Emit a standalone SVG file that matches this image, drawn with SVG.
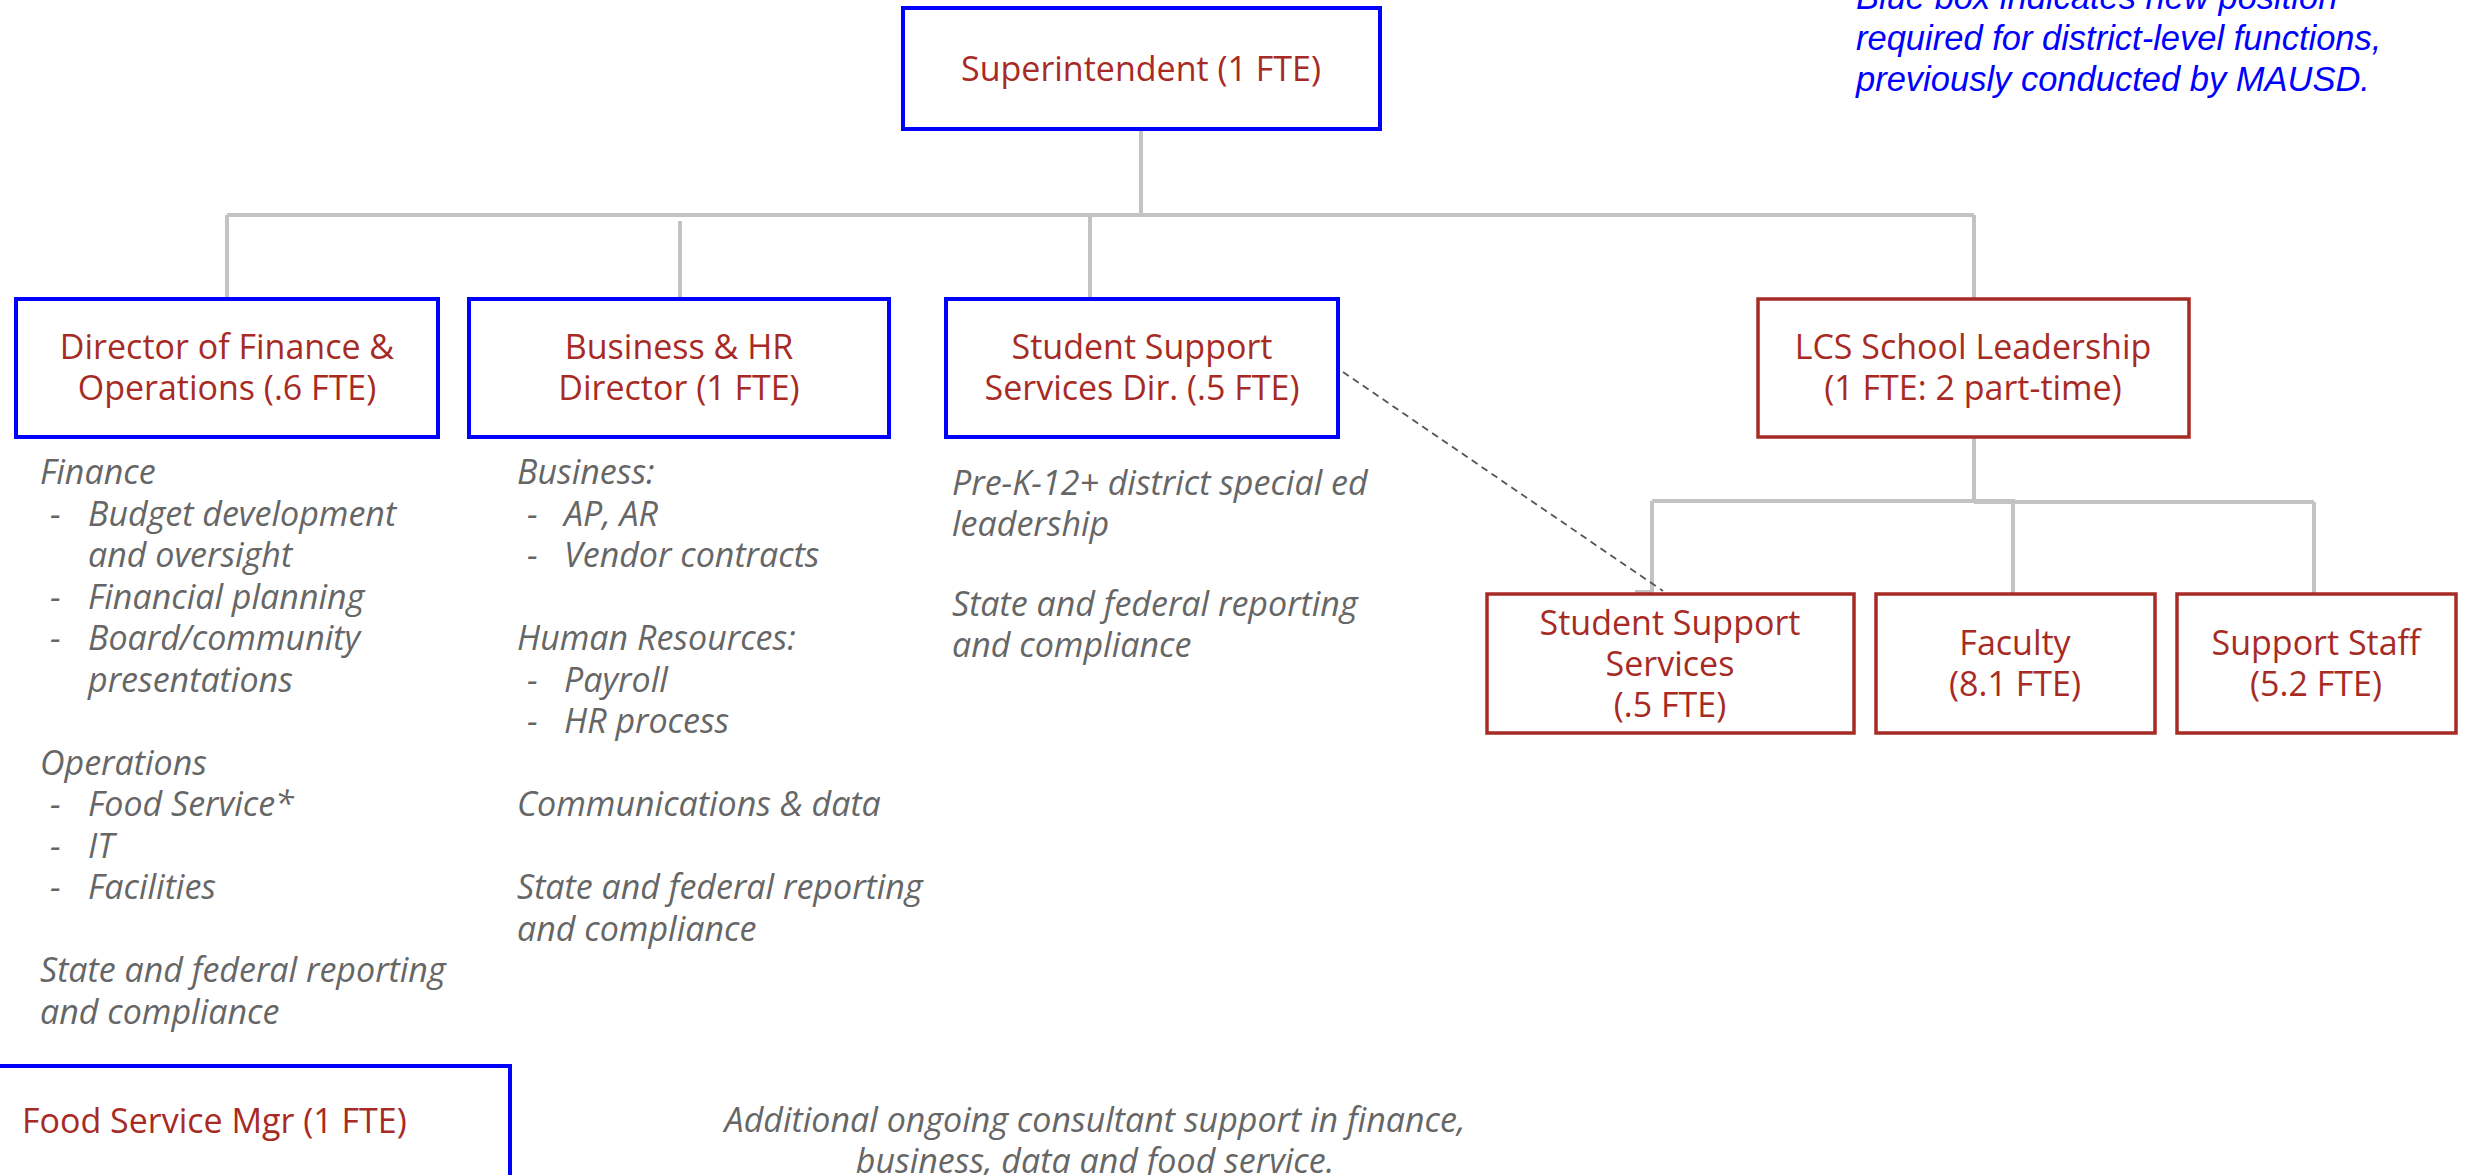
<svg xmlns="http://www.w3.org/2000/svg" width="2465" height="1175" viewBox="0 0 2465 1175">
<style>
.bbox{fill:#ffffff;stroke:#0000ff;stroke-width:4}
.rbox{fill:#ffffff;stroke:#a72b24;stroke-width:3.5}
.t{font-family:"Open Sans","Noto Sans",sans-serif;font-size:34px;fill:#a72b24;text-anchor:middle}
.n{font-family:"Open Sans","Noto Sans",sans-serif;font-size:34px;font-style:italic;fill:#666666}
.lg{font-family:"Liberation Sans",Arial,sans-serif;font-size:34.5px;font-style:italic;fill:#0000ff}
.c{fill:none;stroke:#c3c3c3;stroke-width:4}
.d{fill:none;stroke:#555555;stroke-width:1.8;stroke-dasharray:7 5}
</style>
<rect width="2465" height="1175" fill="#ffffff"/>
<g id="connectors">
<path class="c" d="M1141 129V215M227 215H1974M227 215V299M680 221V299M1090 215V299M1974 215V299"/>
<path class="c" d="M1974 437V501M1652 501H2015M1974 502H2314M1652 501V592H1635M2013 501V594M2314 502V594"/>
<path class="d" d="M1343 372L1663 591"/>
</g>
<g id="legend">
<text class="lg" x="1856" y="9">Blue box indicates new position</text>
<text class="lg" x="1856" y="50">required for district-level functions,</text>
<text class="lg" x="1856" y="91">previously conducted by MAUSD.</text>
</g>
<g id="superintendent">
<rect class="bbox" x="903" y="8" width="477" height="121"/>
<text class="t" x="1141" y="81">Superintendent (1 FTE)</text>
</g>
<g id="dir-finance">
<rect class="bbox" x="16" y="299" width="422" height="138"/>
<text class="t" x="227" y="359">Director of Finance &amp;</text>
<text class="t" x="227" y="400">Operations (.6 FTE)</text>
</g>
<g id="business-hr">
<rect class="bbox" x="469" y="299" width="420" height="138"/>
<text class="t" x="679" y="359">Business &amp; HR</text>
<text class="t" x="679" y="400">Director (1 FTE)</text>
</g>
<g id="ssd">
<rect class="bbox" x="946" y="299" width="392" height="138"/>
<text class="t" x="1142" y="359">Student Support</text>
<text class="t" x="1142" y="400">Services Dir. (.5 FTE)</text>
</g>
<g id="lcs">
<rect class="rbox" x="1758" y="299" width="431" height="138"/>
<text class="t" x="1973" y="359">LCS School Leadership</text>
<text class="t" x="1973" y="400">(1 FTE: 2 part-time)</text>
</g>
<g id="sss">
<rect class="rbox" x="1487" y="594" width="367" height="139"/>
<text class="t" x="1670" y="635">Student Support</text>
<text class="t" x="1670" y="676">Services</text>
<text class="t" x="1670" y="717">(.5 FTE)</text>
</g>
<g id="faculty">
<rect class="rbox" x="1876" y="594" width="279" height="139"/>
<text class="t" x="2015" y="655">Faculty</text>
<text class="t" x="2015" y="696">(8.1 FTE)</text>
</g>
<g id="support-staff">
<rect class="rbox" x="2177" y="594" width="279" height="139"/>
<text class="t" x="2316" y="655">Support Staff</text>
<text class="t" x="2316" y="696">(5.2 FTE)</text>
</g>
<g id="finance-notes">
<text class="n" x="40" y="484">Finance</text>
<text class="n" x="50" y="525.5">-</text><text class="n" x="88" y="525.5">Budget development</text>
<text class="n" x="88" y="567">and oversight</text>
<text class="n" x="50" y="608.5">-</text><text class="n" x="88" y="608.5">Financial planning</text>
<text class="n" x="50" y="650">-</text><text class="n" x="88" y="650">Board/community</text>
<text class="n" x="88" y="691.5">presentations</text>
<text class="n" x="40" y="774.5">Operations</text>
<text class="n" x="50" y="816">-</text><text class="n" x="88" y="816">Food Service*</text>
<text class="n" x="50" y="857.5">-</text><text class="n" x="88" y="857.5">IT</text>
<text class="n" x="50" y="899">-</text><text class="n" x="88" y="899">Facilities</text>
<text class="n" x="40" y="982">State and federal reporting</text>
<text class="n" x="40" y="1023.5">and compliance</text>
</g>
<g id="business-notes">
<text class="n" x="517" y="484">Business:</text>
<text class="n" x="527" y="525.5">-</text><text class="n" x="564" y="525.5">AP, AR</text>
<text class="n" x="527" y="567">-</text><text class="n" x="564" y="567">Vendor contracts</text>
<text class="n" x="517" y="650">Human Resources:</text>
<text class="n" x="527" y="691.5">-</text><text class="n" x="564" y="691.5">Payroll</text>
<text class="n" x="527" y="733">-</text><text class="n" x="564" y="733">HR process</text>
<text class="n" x="517" y="816">Communications &amp; data</text>
<text class="n" x="517" y="899">State and federal reporting</text>
<text class="n" x="517" y="940.5">and compliance</text>
</g>
<g id="ssd-notes">
<text class="n" x="952" y="495">Pre-K-12+ district special ed</text>
<text class="n" x="952" y="536">leadership</text>
<text class="n" x="952" y="616">State and federal reporting</text>
<text class="n" x="952" y="657">and compliance</text>
</g>
<g id="food-service">
<rect class="bbox" x="-4" y="1066" width="514" height="130"/>
<text class="t" x="22" y="1133" style="text-anchor:start">Food Service Mgr (1 FTE)</text>
</g>
<g id="consultant-note">
<text class="n" x="1095" y="1132" text-anchor="middle">Additional ongoing consultant support in finance,</text>
<text class="n" x="1095" y="1173" text-anchor="middle">business, data and food service.</text>
</g>
</svg>
